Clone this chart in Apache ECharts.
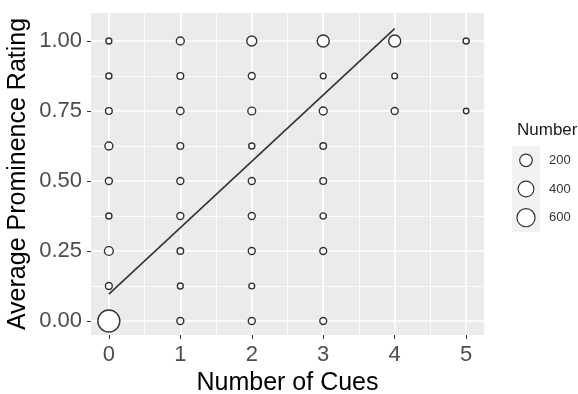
<!DOCTYPE html>
<html>
<head>
<meta charset="utf-8">
<script src="https://cdn.jsdelivr.net/npm/echarts@6/dist/echarts.min.js"></script>
<style>html,body{margin:0;padding:0;background:#fff}#c{width:578px;height:394px}</style>
</head>
<body>
<div id="c"></div>
<script>
// Data: number of cues, average prominence rating, number of observations
var cues    = [0,0,0,0,0,0,0,0,0, 1,1,1,1,1,1,1,1,1, 2,2,2,2,2,2,2,2,2, 3,3,3,3,3,3,3,3, 4,4,4, 5,5];
var ratings = [1,0.875,0.75,0.625,0.5,0.375,0.25,0.125,0,
               1,0.875,0.75,0.625,0.5,0.375,0.25,0.125,0,
               1,0.875,0.75,0.625,0.5,0.375,0.25,0.125,0,
               1,0.875,0.75,0.625,0.5,0.375,0.25,0,
               1,0.875,0.75,
               1,0.75];
var counts  = [3,4,10,30,14,4,50,12,1000,
               30,10,20,10,14,14,8,3,14,
               85,12,28,4,14,14,14,2,14,
               170,2,30,8,10,6,12,12,
               170,2,14,
               4,1];
// Fitted regression line endpoints
var fitX = [0, 4];
var fitY = [0.096, 1.044];
// Tick labels
var xTicks = [0,1,2,3,4,5];
var yTicks = [0,0.25,0.5,0.75,1];
var xMinor = [0.5,1.5,2.5,3.5,4.5];
var yMinor = [0.125,0.375,0.625,0.875];
// Size legend
var legendValues = [200,400,600];

var maxCount = Math.max.apply(null, counts);
function sizeOf(v){ return 5 + 17*Math.sqrt(v/maxCount); }

var pts = cues.map(function(x,i){ return [x, ratings[i], counts[i]]; });
var fit = fitX.map(function(x,i){ return [x, fitY[i]]; });

var chart = echarts.init(document.getElementById('c'), null, {renderer:'canvas'});
var font = 'Liberation Sans, Arial, sans-serif';
var noLine = {show:false, onZero:false};
chart.setOption({
  animation:false,
  title:{text:'Number', left:512, top:117, textStyle:{fontFamily:font, fontSize:17, fontWeight:'normal', color:'#1a1a1a'}},
  grid:[
    {left:91, right:94, top:13, bottom:59, show:true, backgroundColor:'#ebebeb', borderWidth:0,
     outerBoundsMode:'none', containLabel:false},
    {left:512, width:28, top:146, height:86, show:true, backgroundColor:'#f2f2f2', borderWidth:0,
     outerBoundsMode:'none', containLabel:false}
  ],
  xAxis:[
    {gridIndex:0, type:'value', min:-0.25, max:5.25, position:'bottom',
     name:'Number of Cues', nameLocation:'middle', nameGap:36,
     nameTextStyle:{fontFamily:font, fontSize:25, color:'#000'},
     axisLine:noLine,
     axisTick:{show:true, customValues:xTicks, length:4, lineStyle:{color:'#333', width:1}},
     axisLabel:{customValues:xTicks, fontFamily:font, fontSize:22, color:'#4d4d4d', margin:9},
     splitLine:{show:true, lineStyle:{color:'#fff', width:1.6}}},
    {gridIndex:0, type:'value', min:-0.25, max:5.25, position:'bottom',
     axisLine:noLine, axisLabel:{show:false},
     axisTick:{show:false, customValues:xMinor},
     splitLine:{show:true, lineStyle:{color:'#fff', width:0.8}}},
    {gridIndex:1, type:'value', min:0, max:1, show:false, axisLine:noLine}
  ],
  yAxis:[
    {gridIndex:0, type:'value', min:-0.05, max:1.1, position:'left',
     name:'Average Prominence Rating', nameLocation:'middle', nameGap:60, nameMoveOverlap:false,
     nameTextStyle:{fontFamily:font, fontSize:25, color:'#000'},
     axisLine:noLine,
     axisTick:{show:true, customValues:yTicks, length:4, lineStyle:{color:'#333', width:1}},
     axisLabel:{customValues:yTicks, fontFamily:font, fontSize:22, color:'#4d4d4d', margin:9,
                formatter:function(v){ return v.toFixed(2); }},
     splitLine:{show:true, lineStyle:{color:'#fff', width:1.6}}},
    {gridIndex:0, type:'value', min:-0.05, max:1.1, position:'left',
     axisLine:noLine, axisLabel:{show:false},
     axisTick:{show:false, customValues:yMinor},
     splitLine:{show:true, lineStyle:{color:'#fff', width:0.8}}},
    {gridIndex:1, type:'category', data:legendValues.map(String), inverse:true, position:'right',
     axisLine:noLine, axisTick:{show:false}, splitLine:{show:false},
     axisLabel:{fontFamily:font, fontSize:13, color:'#333', margin:9}}
  ],
  series:[
    {type:'scatter', xAxisIndex:0, yAxisIndex:0, data:pts, clip:false, z:3,
     symbol:'circle', symbolSize:function(v){ return sizeOf(v[2]); },
     itemStyle:{color:'#fff', borderColor:'#333', borderWidth:1.4, opacity:1}},
    {type:'line', xAxisIndex:0, yAxisIndex:0, data:fit, z:4, symbol:'none',
     lineStyle:{color:'#333', width:1.6}},
    {type:'scatter', xAxisIndex:2, yAxisIndex:2,
     data:legendValues.map(function(v){ return [0.5, String(v), v]; }),
     symbol:'circle', symbolSize:function(v){ return sizeOf(v[2]); },
     itemStyle:{color:'#fff', borderColor:'#333', borderWidth:1.2, opacity:1}}
  ]
});
</script>
</body>
</html>
